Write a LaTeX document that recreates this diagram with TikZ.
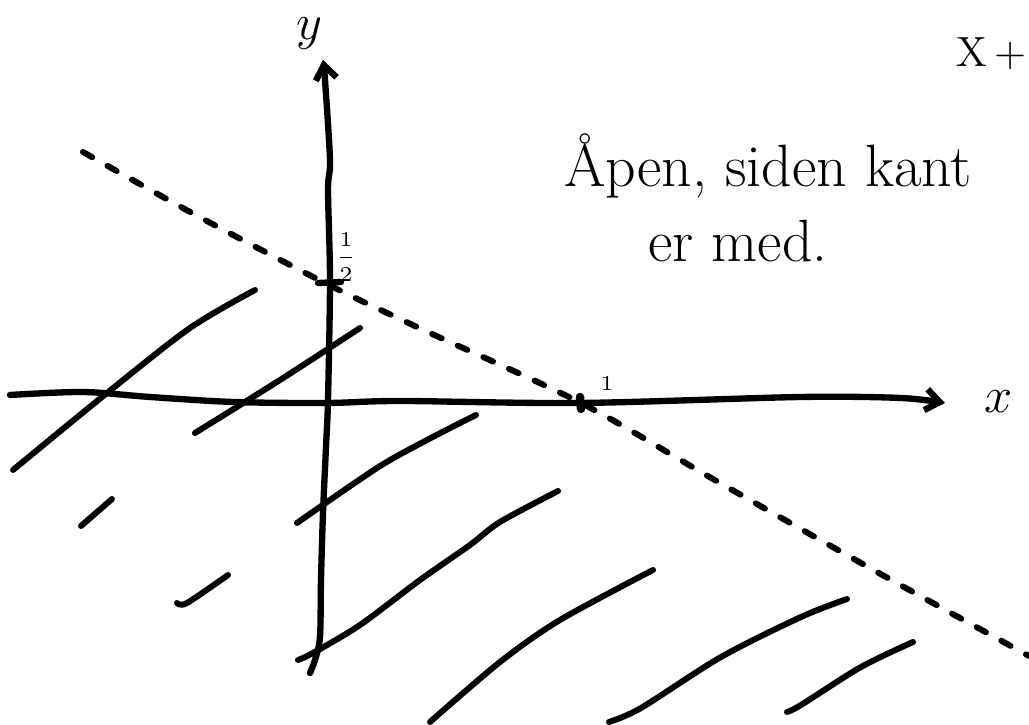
\documentclass[tikz,border=0pt]{standalone}
\usepackage{amsmath}
\usepackage{tikz}
\usetikzlibrary{arrows.meta}

\begin{document}
\begin{tikzpicture}[x=0.01cm,y=-0.01cm,line width=1.8pt,line cap=round,line join=round,
axis/.style={-{Straight Barb[length=4pt,width=6pt]}},
hatch/.style={line width=1.7pt},
bound/.style={line width=1.7pt,dash pattern=on 3pt off 5pt}]
\useasboundingbox (0,0) rectangle (1029,725);

% axes
\draw[axis] plot[smooth] coordinates {(10,395) (83,392) (150,397) (233,402)
(327,403) (400,401) (580,403) (801,397) (901,398) (945,403)};
\draw[axis] plot[smooth] coordinates {(310,673) (315,660) (320,637) (321,580)
(323,513) (326,447) (328,400) (330,280) (328,190) (330,160) (325,80) (323,60)};
\node[font=\fontsize{14}{16}\selectfont] (xlab) at (999,402) {$x$};
\node[font=\fontsize{14}{16}\selectfont] (ylab) at (309,34) {$y$};

% ticks
\draw (318,283) -- (341,282);
\draw[line width=2.4pt] (580,397) -- (581,409);
\node[font=\fontsize{6}{7}\selectfont,inner sep=0pt] (half) at (346,257) {$\dfrac{1}{2}$};
\node[font=\fontsize{6}{7}\selectfont,inner sep=0pt] (one) at (607,383) {1};

% boundary line (not included)
\draw[bound] plot[smooth] coordinates {(83,152) (192,213) (323,282) (417,327)
(581,403) (713,479) (877,572) (1029,656)};

% hatching
\draw[hatch] plot[smooth] coordinates {(13,470) (107,393) (190,328) (255,290)};
\draw[hatch] plot[smooth] coordinates {(195,433) (280,380) (360,328)};
\draw[hatch] plot[smooth] coordinates {(81,526) (112,499)};
\draw[hatch] plot[smooth] coordinates {(177,603) (187,603) (228,575)};
\draw[hatch] plot[smooth] coordinates {(297,523) (377,468) (427,440) (476,415)};
\draw[hatch] plot[smooth] coordinates {(298,660) (313,653) (360,625) (420,580)
(470,545) (500,522) (558,491)};
\draw[hatch] plot[smooth] coordinates {(430,722) (500,662) (560,620) (653,570)};
\draw[hatch] plot[smooth] coordinates {(609,722) (641,708) (721,657) (801,617) (847,599)};
\draw[hatch] plot[smooth] coordinates {(787,712) (801,705) (861,667) (913,642)};

% notes
\node[font=\fontsize{12}{14}\selectfont,anchor=base west,inner sep=0pt] (ineq) at (953,67) {X\,+};
\node[font=\fontsize{17}{19}\selectfont,anchor=base west,inner sep=0pt] (open) at (561,187)
{Åpen, siden kant};
\node[font=\fontsize{17}{19}\selectfont,anchor=base west,inner sep=0pt] (incl) at (645,262)
{er med.};
\end{tikzpicture}
\end{document}
